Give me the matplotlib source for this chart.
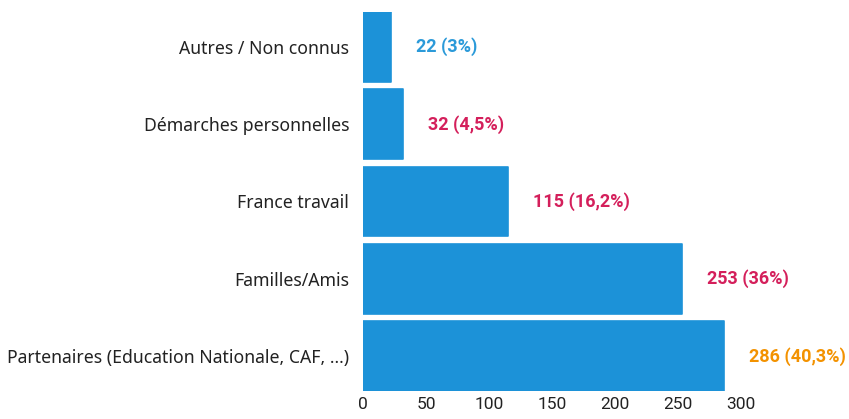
import matplotlib.pyplot as plt

# Data (bottom to top as drawn)
categories = ["Partenaires (Education Nationale, CAF, ...)", "Familles/Amis",
              "France travail", "Démarches personnelles", "Autres / Non connus"]
counts = [286, 253, 115, 32, 22]
labels = ["286 (40,3%)", "253 (36%)", "115 (16,2%)", "32 (4,5%)", "22 (3%)"]
label_colors = ["#f39200", "#d41f5b", "#d41f5b", "#d41f5b", "#2b9ad9"]
xticks = [0, 50, 100, 150, 200, 250, 300]

fig = plt.figure(figsize=(8.49, 4.19), dpi=100)
ax = fig.add_axes([0.4276, 0.0668, 0.4455, 0.9046])

bars = ax.barh(range(len(categories)), counts, height=0.9, color="#1c92d8",
               edgecolor="#1c92d8", linewidth=1.2, joinstyle="round")

for bar, txt, col in zip(bars, labels, label_colors):
    ax.annotate(txt, (bar.get_width(), bar.get_y() + bar.get_height() / 2),
                xytext=(18, 0), textcoords="offset points", va="center", ha="left",
                color=col, fontsize=13, fontweight="bold", family="Roboto")

ax.set_xlim(0, 300)
ax.set_ylim(-0.45, 4.45)
ax.set_xticks(xticks)
ax.set_xticklabels([str(t) for t in xticks], family="Roboto", fontsize=12.5, color="#222222")
ax.set_yticks(range(len(categories)))
ax.set_yticklabels(categories, family="Noto Sans", fontsize=12.7, color="#222222")
ax.tick_params(axis="y", length=0, pad=10)
ax.tick_params(axis="x", length=0, pad=4)
for s in ax.spines.values():
    s.set_visible(False)

plt.savefig("out.png", dpi=100)
plt.close()
